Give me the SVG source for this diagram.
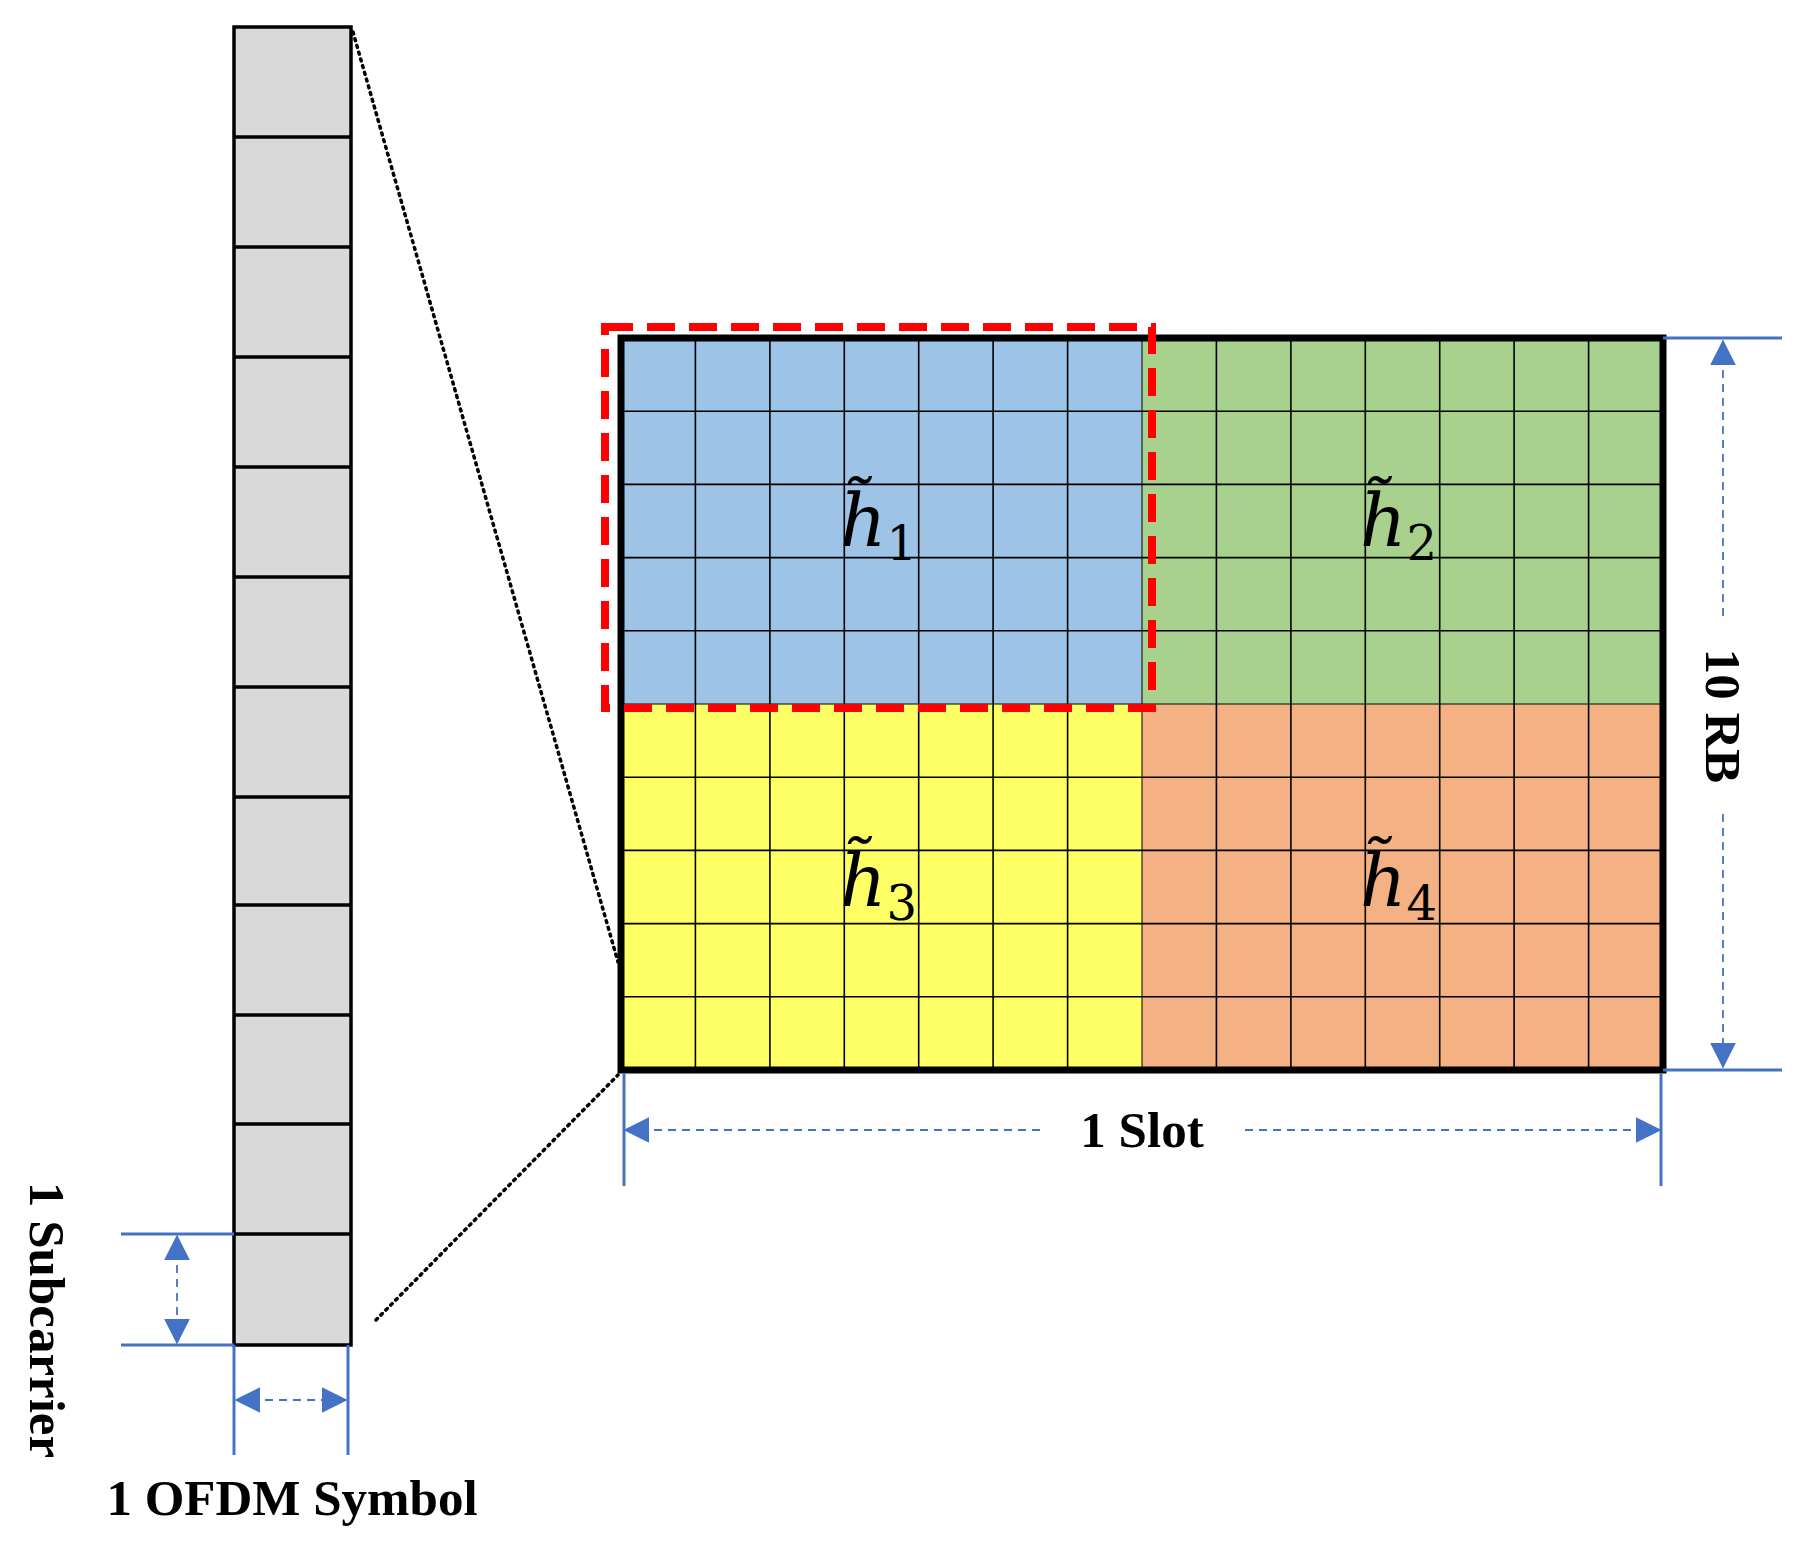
<svg xmlns="http://www.w3.org/2000/svg" width="1805" height="1554" viewBox="0 0 1805 1554">
<defs>
<marker id="ahb" viewBox="0 0 10 10" refX="9" refY="5" markerWidth="26" markerHeight="26" orient="auto-start-reverse" markerUnits="userSpaceOnUse"><path d="M0,0 L10,5 L0,10 z" fill="#4472c4"/></marker>
</defs>
<style>
.dim{stroke:#4472c4;stroke-width:3;fill:none}
.dash{stroke:#4472c4;stroke-width:1.8;stroke-dasharray:8 6;fill:none}
.g{stroke:#000;stroke-width:1.6}
.lbl{font-family:"Liberation Serif",serif;font-weight:bold;font-size:51px;fill:#000}
.h{font-family:"DejaVu Serif",serif;font-style:italic;font-size:72px;fill:#000}
.sub{font-family:"DejaVu Serif",serif;font-size:48px;font-style:normal}
.dot{stroke:#000;stroke-width:3.5;stroke-dasharray:2 5;stroke-linecap:round}
</style>
<rect width="1805" height="1554" fill="#fff"/>
<g id="column">
<rect x="234" y="27" width="117" height="1318" fill="#d9d9d9" stroke="#000" stroke-width="3.5"/>
<g stroke="#000" stroke-width="3.5">
<line x1="234" y1="137" x2="351" y2="137"/><line x1="234" y1="247" x2="351" y2="247"/><line x1="234" y1="357" x2="351" y2="357"/><line x1="234" y1="467" x2="351" y2="467"/><line x1="234" y1="577" x2="351" y2="577"/><line x1="234" y1="687" x2="351" y2="687"/><line x1="234" y1="797" x2="351" y2="797"/><line x1="234" y1="905" x2="351" y2="905"/><line x1="234" y1="1015" x2="351" y2="1015"/><line x1="234" y1="1124" x2="351" y2="1124"/><line x1="234" y1="1234" x2="351" y2="1234"/>
</g>
</g>
<g id="connectors">
<line class="dot" x1="353" y1="32" x2="618" y2="962"/>
<line class="dot" x1="376" y1="1320" x2="618" y2="1075"/>
</g>
<g id="grid">
<rect x="621" y="338" width="521" height="366" fill="#9dc3e6"/>
<rect x="1142" y="338" width="521" height="366" fill="#a9d18e"/>
<rect x="621" y="704" width="521" height="366" fill="#ffff66"/>
<rect x="1142" y="704" width="521" height="366" fill="#f4b183"/>
<g class="g">
<line x1="695.4" y1="338" x2="695.4" y2="1070"/><line x1="769.9" y1="338" x2="769.9" y2="1070"/><line x1="844.3" y1="338" x2="844.3" y2="1070"/><line x1="918.7" y1="338" x2="918.7" y2="1070"/><line x1="993.1" y1="338" x2="993.1" y2="1070"/><line x1="1067.6" y1="338" x2="1067.6" y2="1070"/><line x1="1142" y1="338" x2="1142" y2="1070" stroke-width="1"/><line x1="1216.4" y1="338" x2="1216.4" y2="1070"/><line x1="1290.9" y1="338" x2="1290.9" y2="1070"/><line x1="1365.3" y1="338" x2="1365.3" y2="1070"/><line x1="1439.7" y1="338" x2="1439.7" y2="1070"/><line x1="1514.1" y1="338" x2="1514.1" y2="1070"/><line x1="1588.6" y1="338" x2="1588.6" y2="1070"/>
<line x1="621" y1="411.2" x2="1663" y2="411.2"/><line x1="621" y1="484.4" x2="1663" y2="484.4"/><line x1="621" y1="557.6" x2="1663" y2="557.6"/><line x1="621" y1="630.8" x2="1663" y2="630.8"/><line x1="621" y1="704" x2="1663" y2="704" stroke-width="1"/><line x1="621" y1="777.2" x2="1663" y2="777.2"/><line x1="621" y1="850.4" x2="1663" y2="850.4"/><line x1="621" y1="923.6" x2="1663" y2="923.6"/><line x1="621" y1="996.8" x2="1663" y2="996.8"/>
</g>
<rect x="621" y="338" width="1042" height="732" fill="none" stroke="#000" stroke-width="7"/>
<rect x="605" y="327" width="547" height="381" fill="none" stroke="#ff0000" stroke-width="8" stroke-dasharray="28 14"/>
</g>
<g id="labels-h">
<text class="h" x="840" y="546">h̃<tspan class="sub" dy="14">1</tspan></text>
<text class="h" x="1360" y="546">h̃<tspan class="sub" dy="14">2</tspan></text>
<text class="h" x="840" y="906">h̃<tspan class="sub" dy="14">3</tspan></text>
<text class="h" x="1360" y="906">h̃<tspan class="sub" dy="14">4</tspan></text>
</g>
<g id="dim-rb">
<line class="dim" x1="1663" y1="338" x2="1782" y2="338"/>
<line class="dim" x1="1663" y1="1070" x2="1782" y2="1070"/>
<line class="dash" x1="1723" y1="342" x2="1723" y2="618" marker-start="url(#ahb)"/>
<line class="dash" x1="1723" y1="814" x2="1723" y2="1066" marker-end="url(#ahb)"/>
<text class="lbl" transform="translate(1706,716) rotate(90)" text-anchor="middle">10 RB</text>
</g>
<g id="dim-slot">
<line class="dim" x1="624" y1="1074" x2="624" y2="1186"/>
<line class="dim" x1="1661" y1="1074" x2="1661" y2="1186"/>
<line class="dash" x1="626" y1="1130" x2="1040" y2="1130" marker-start="url(#ahb)"/>
<line class="dash" x1="1245" y1="1130" x2="1659" y2="1130" marker-end="url(#ahb)"/>
<text class="lbl" x="1142" y="1147" text-anchor="middle">1 Slot</text>
</g>
<g id="dim-sub">
<line class="dim" x1="121" y1="1234" x2="234" y2="1234"/>
<line class="dim" x1="121" y1="1345" x2="234" y2="1345"/>
<line class="dash" x1="177" y1="1237" x2="177" y2="1342" marker-start="url(#ahb)" marker-end="url(#ahb)"/>
<text class="lbl" transform="translate(30,1320) rotate(90)" text-anchor="middle">1 Subcarrier</text>
</g>
<g id="dim-ofdm">
<line class="dim" x1="234" y1="1345" x2="234" y2="1455"/>
<line class="dim" x1="348" y1="1345" x2="348" y2="1455"/>
<line class="dash" x1="237" y1="1400" x2="345" y2="1400" marker-start="url(#ahb)" marker-end="url(#ahb)"/>
<text class="lbl" x="292" y="1515" text-anchor="middle">1 OFDM Symbol</text>
</g>
</svg>
